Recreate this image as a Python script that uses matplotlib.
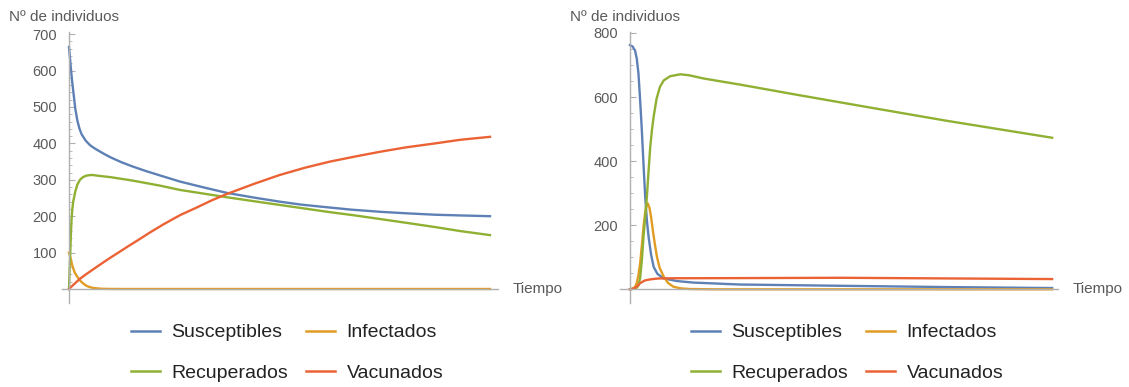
import numpy as np
import matplotlib
matplotlib.use("Agg")
import matplotlib.pyplot as plt
from matplotlib.lines import Line2D

plt.rcParams['font.family'] = ['Liberation Sans', 'DejaVu Sans']

# ---- data (time in % of the simulated span) ----
# left panel
t_sus1 = [0, 0.25, 0.5, 0.75, 1, 1.5, 2, 2.5, 3, 4, 5, 6, 7, 8.5, 10, 12.5, 15, 18,
          21.6, 26.4, 32, 37.5, 44, 50, 55, 60, 67, 74, 80, 87, 93, 100]
sus1 = [665, 632, 600, 570, 545, 495, 462, 440, 425, 407, 395, 387, 380, 370, 361, 348, 337, 325,
        312, 295, 279, 264, 251, 240, 232, 226, 218, 212, 208, 204, 202, 200]
t_inf1 = [0, 0.25, 0.5, 0.7, 1, 1.4, 2, 2.6, 3, 3.5, 4, 4.5, 5, 5.7, 7, 8, 10, 12, 100]
inf1 = [100, 90, 78, 68, 57, 44, 33, 24, 19, 14, 10, 7, 5, 3, 1.3, 0.5, 0.1, 0, 0]
t_rec1 = [0, 0.15, 0.3, 0.45, 0.6, 0.8, 1, 1.5, 2, 2.6, 3.3, 4, 5, 5.7, 7, 10, 15, 21.6,
          26.4, 32, 37.5, 44, 50, 56, 62, 68, 74, 80, 87, 93, 100]
rec1 = [0, 55, 100, 150, 190, 220, 240, 268, 287, 300, 307, 311, 313, 313, 311, 307, 298, 284,
        272, 262, 252, 241, 231, 221, 211, 202, 192, 182, 170, 159, 148]
t_vac1 = [0, 1, 2.6, 4, 5, 7, 9.7, 12, 14, 16.5, 19.2, 22.5, 26.4, 30, 34, 37.5, 44, 50,
          56, 62, 68, 73.9, 80, 87, 93, 100]
vac1 = [0, 11, 28, 40, 48, 64, 85, 102, 117, 135, 155, 178, 203, 222, 244, 261, 289, 313,
        333, 350, 364, 377, 389, 400, 410, 418]

# right panel
t_sus2 = [0, 0.6, 1.2, 1.6, 2, 2.4, 2.8, 3.2, 3.6, 4, 4.4, 5, 5.6, 6.5, 8, 11, 15, 26, 50, 75, 100]
sus2 = [762, 758, 745, 720, 674, 590, 497, 390, 289, 215, 164, 108, 70, 48, 34, 26, 21, 15, 11, 7, 4]
t_inf2 = [0, 0.8, 1.2, 1.6, 2, 2.4, 2.8, 3.2, 3.6, 3.9, 4.2, 4.6, 5, 5.4, 5.9, 6.4, 7, 8, 9,
          10.3, 12, 14, 20, 100]
inf2 = [0, 3, 8, 20, 45, 81, 135, 195, 240, 260, 268, 255, 225, 185, 140, 100, 68, 39, 20,
        8, 3, 1, 0, 0]
t_rec2 = [0, 1, 1.6, 2, 2.4, 2.8, 3.2, 3.6, 4, 4.4, 4.8, 5.2, 5.6, 6.3, 7.1, 8, 9.5, 11.9,
          14, 17.4, 26, 40, 54.8, 75, 100]
rec2 = [0, 2, 5, 12, 35, 90, 164, 225, 289, 370, 445, 497, 539, 595, 632, 652, 665, 671,
        668, 658, 639, 606, 572, 526, 473]
t_vac2 = [0, 0.6, 1.2, 1.8, 2.4, 3, 3.6, 4.8, 6, 7.1, 10, 26, 50, 75, 100]
vac2 = [0, 1.5, 5, 11, 19, 24, 28, 31, 33, 34, 34.5, 35, 36, 34, 32]

labels = ["Susceptibles", "Infectados", "Recuperados", "Vacunados"]
colors = ["#5E81B5", "#E19C24", "#8FB032", "#EB6235"]

W, H = 1129, 387
fig = plt.figure(figsize=(W / 100, H / 100), dpi=100)

def px_axes(x0, x1, y0, y1):
    return fig.add_axes([x0 / W, 1 - y1 / H, (x1 - x0) / W, (y1 - y0) / H])

axis_gray = "#b0b0b0"
text_gray = "#5a5a5a"

def style(ax, xlim, ylim, major, minor):
    ax.set_xlim(*xlim)
    ax.set_ylim(*ylim)
    for s in ["top", "right"]:
        ax.spines[s].set_visible(False)
    ax.spines["left"].set_position(("data", 0))
    ax.spines["bottom"].set_position(("data", 0))
    for s in ["left", "bottom"]:
        ax.spines[s].set_color(axis_gray)
        ax.spines[s].set_linewidth(1.0)
    ax.set_xticks([])
    ax.set_yticks(major)
    ax.set_yticks(minor, minor=True)
    ax.tick_params(axis="y", which="major", direction="in", length=4.5, width=0.8,
                   color=axis_gray, labelcolor=text_gray, labelsize=10.5, pad=8.5)
    ax.tick_params(axis="y", which="minor", direction="in", length=2.5, width=0.6,
                   color=axis_gray)
    ax.patch.set_alpha(0)

# left panel
ax1 = px_axes(62, 498, 32, 303)
ax1.plot(t_sus1, sus1, color=colors[0], lw=1.7)
ax1.plot(t_inf1, inf1, color=colors[1], lw=1.7)
ax1.plot(t_rec1, rec1, color=colors[2], lw=1.7)
ax1.plot(t_vac1, vac1, color=colors[3], lw=1.7)
style(ax1, (-1.66, 101.9), (-38.5, 706),
      [100, 200, 300, 400, 500, 600, 700], np.arange(20, 701, 20))

# right panel
ax2 = px_axes(620, 1058, 32, 303)
ax2.plot(t_sus2, sus2, color=colors[0], lw=1.7)
ax2.plot(t_inf2, inf2, color=colors[1], lw=1.7)
ax2.plot(t_rec2, rec2, color=colors[2], lw=1.7)
ax2.plot(t_vac2, vac2, color=colors[3], lw=1.7)
style(ax2, (-2.37, 101.4), (-42.7, 803),
      [200, 400, 600, 800], np.arange(50, 801, 50))

for ax in (ax1, ax2):
    ax.annotate("Tiempo", xy=(1, 0), xycoords=("axes fraction", "data"),
                xytext=(10.5, 0), textcoords="offset points",
                ha="left", va="center", fontsize=11, color=text_gray)
    ax.annotate("Nº de individuos", xy=(0, 1), xycoords=("data", "axes fraction"),
                xytext=(-43, 11), textcoords="offset points",
                ha="left", va="center", fontsize=11, color=text_gray)

# legend fills column-wise, so order the entries to read row by row
order = [0, 2, 1, 3]
handles = [Line2D([], [], color=colors[i], lw=1.8) for i in order]
leg_labels = [labels[i] for i in order]
for cx in (287, 847):
    fig.legend(handles, leg_labels, loc="center", ncol=2,
               bbox_to_anchor=(cx / W, 1 - 353 / H), frameon=False,
               fontsize=14, handlelength=1.5, handletextpad=0.6,
               columnspacing=0.9, labelspacing=1.2, labelcolor="#222222")

fig.savefig("out.png", dpi=100)
